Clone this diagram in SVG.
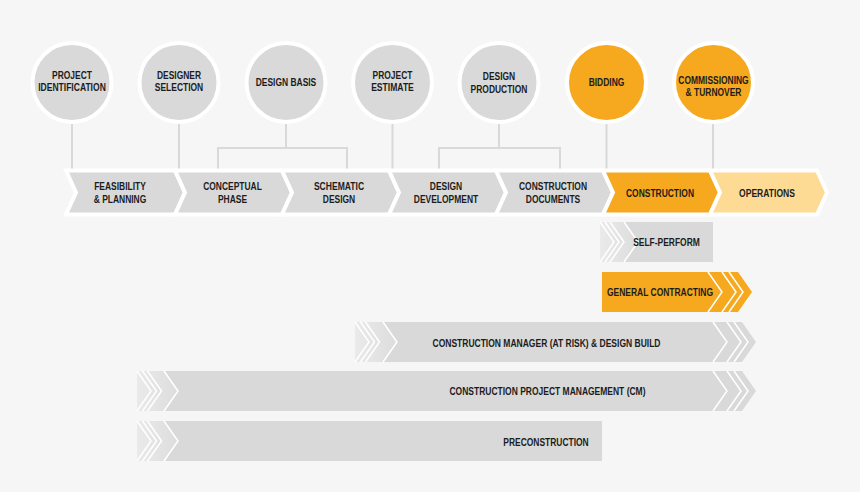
<svg xmlns="http://www.w3.org/2000/svg" width="860" height="492" viewBox="0 0 860 492">
<defs>
<style>
.t{font-family:"Liberation Sans",Arial,sans-serif;font-weight:bold;font-size:10.3px;fill:#1c1c1c;text-anchor:middle}
.c{stroke:#ffffff;stroke-width:4}
.g{fill:#d9d9d9}
.o{fill:#f6a81e}
.lo{fill:#fedb95}
.ch{stroke:#ffffff;stroke-width:4;stroke-linejoin:miter}
.wl{fill:none;stroke:#ffffff;stroke-width:1.5}
.cn{fill:none;stroke:#d9d9d9;stroke-width:2}
</style>
<linearGradient id="fade" x1="0" y1="0" x2="1" y2="0">
<stop offset="0" stop-color="#ffffff" stop-opacity="0.45"/>
<stop offset="1" stop-color="#ffffff" stop-opacity="0.1"/>
</linearGradient>
</defs>
<rect x="0" y="0" width="860" height="492" fill="#f6f6f6"/>

<g id="connectors">
<line class="cn" x1="72" y1="124" x2="72" y2="169"/>
<line class="cn" x1="179" y1="124" x2="179" y2="169"/>
<polyline class="cn" points="286,124 286,148"/>
<polyline class="cn" points="218,169 218,148 347,148 347,169"/>
<line class="cn" x1="392.5" y1="124" x2="392.5" y2="169"/>
<polyline class="cn" points="499,124 499,148"/>
<polyline class="cn" points="439,169 439,148 560,148 560,169"/>
<line class="cn" x1="606.5" y1="124" x2="606.5" y2="169"/>
<line class="cn" x1="713" y1="124" x2="713" y2="169"/>
</g>

<g id="circle-project-identification">
<circle class="c g" cx="72" cy="82.5" r="39.5"/>
<text class="t" x="72" y="78.7" textLength="39.9" lengthAdjust="spacingAndGlyphs">PROJECT</text>
<text class="t" x="72" y="91" textLength="67.6" lengthAdjust="spacingAndGlyphs">IDENTIFICATION</text>
</g>
<g id="circle-designer-selection">
<circle class="c g" cx="179" cy="82.5" r="39.5"/>
<text class="t" x="179" y="78.7" textLength="44.1" lengthAdjust="spacingAndGlyphs">DESIGNER</text>
<text class="t" x="179" y="91" textLength="48.3" lengthAdjust="spacingAndGlyphs">SELECTION</text>
</g>
<g id="circle-design-basis">
<circle class="c g" cx="286" cy="82.5" r="39.5"/>
<text class="t" x="286" y="86.4" textLength="60.5" lengthAdjust="spacingAndGlyphs">DESIGN BASIS</text>
</g>
<g id="circle-project-estimate">
<circle class="c g" cx="392.5" cy="82.5" r="39.5"/>
<text class="t" x="392.5" y="79" textLength="39.9" lengthAdjust="spacingAndGlyphs">PROJECT</text>
<text class="t" x="392.5" y="91.3" textLength="42.7" lengthAdjust="spacingAndGlyphs">ESTIMATE</text>
</g>
<g id="circle-design-production">
<circle class="c g" cx="499" cy="82.5" r="39.5"/>
<text class="t" x="499" y="80.4" textLength="32.4" lengthAdjust="spacingAndGlyphs">DESIGN</text>
<text class="t" x="499" y="92.7" textLength="56.8" lengthAdjust="spacingAndGlyphs">PRODUCTION</text>
</g>
<g id="circle-bidding">
<circle class="c o" cx="606.5" cy="82.5" r="39.5"/>
<text class="t" x="606.5" y="85.7" textLength="35.7" lengthAdjust="spacingAndGlyphs">BIDDING</text>
</g>
<g id="circle-commissioning">
<circle class="c o" cx="713.5" cy="82.5" r="39.5"/>
<text class="t" x="713.5" y="83.7" textLength="70.4" lengthAdjust="spacingAndGlyphs">COMMISSIONING</text>
<text class="t" x="713.5" y="95.7" textLength="55.8" lengthAdjust="spacingAndGlyphs">&amp; TURNOVER</text>
</g>

<g id="phase-feasibility">
<polygon class="ch g" points="66,170.5 175,170.5 185,192.5 175,214.5 66,214.5 76,192.5"/>
<text class="t" x="120" y="189.7" textLength="51.6" lengthAdjust="spacingAndGlyphs">FEASIBILITY</text>
<text class="t" x="120" y="202.7" textLength="52.6" lengthAdjust="spacingAndGlyphs">&amp; PLANNING</text>
</g>
<g id="phase-conceptual">
<polygon class="ch g" points="175,170.5 282,170.5 292,192.5 282,214.5 175,214.5 185,192.5"/>
<text class="t" x="232.5" y="189.7" textLength="58.6" lengthAdjust="spacingAndGlyphs">CONCEPTUAL</text>
<text class="t" x="232.5" y="202.7" textLength="29.1" lengthAdjust="spacingAndGlyphs">PHASE</text>
</g>
<g id="phase-schematic">
<polygon class="ch g" points="282,170.5 389,170.5 399,192.5 389,214.5 282,214.5 292,192.5"/>
<text class="t" x="339" y="189.7" textLength="50.2" lengthAdjust="spacingAndGlyphs">SCHEMATIC</text>
<text class="t" x="339" y="202.7" textLength="32.4" lengthAdjust="spacingAndGlyphs">DESIGN</text>
</g>
<g id="phase-design-development">
<polygon class="ch g" points="389,170.5 496,170.5 506,192.5 496,214.5 389,214.5 399,192.5"/>
<text class="t" x="446" y="189.7" textLength="32.4" lengthAdjust="spacingAndGlyphs">DESIGN</text>
<text class="t" x="446" y="202.7" textLength="64.3" lengthAdjust="spacingAndGlyphs">DEVELOPMENT</text>
</g>
<g id="phase-construction-documents">
<polygon class="ch g" points="496,170.5 603,170.5 613,192.5 603,214.5 496,214.5 506,192.5"/>
<text class="t" x="553" y="189.7" textLength="68" lengthAdjust="spacingAndGlyphs">CONSTRUCTION</text>
<text class="t" x="553" y="202.7" textLength="54.4" lengthAdjust="spacingAndGlyphs">DOCUMENTS</text>
</g>
<g id="phase-construction">
<polygon class="ch o" points="603,170.5 710,170.5 720,192.5 710,214.5 603,214.5 613,192.5"/>
<text class="t" x="660" y="196.7" textLength="68" lengthAdjust="spacingAndGlyphs">CONSTRUCTION</text>
</g>
<g id="phase-operations">
<polygon class="ch lo" points="710,170.5 817,170.5 827,192.5 817,214.5 710,214.5 720,192.5"/>
<text class="t" x="767" y="196.7" textLength="55.8" lengthAdjust="spacingAndGlyphs">OPERATIONS</text>
</g>

<g id="bar-self-perform">
<rect class="g" x="600" y="222" width="113" height="40"/>
<polygon fill="url(#fade)" points="600,222 624,222 638,242 624,262 600,262"/>
<polyline class="wl" points="600,222 614,242 600,262"/>
<polyline class="wl" points="605,222 619,242 605,262"/>
<polyline class="wl" points="610,222 624,242 610,262"/>
<polyline class="wl" points="624,222 638,242 624,262"/>
<text class="t" x="666.5" y="245.7" textLength="66.6" lengthAdjust="spacingAndGlyphs">SELF-PERFORM</text>
</g>

<g id="bar-general-contracting">
<polygon class="o" points="602,272 738,272 752,292 738,312 602,312"/>
<polyline class="wl" points="708,272 722,292 708,312"/>
<polyline class="wl" points="722,272 736,292 722,312"/>
<polyline class="wl" points="729,272 743,292 729,312"/>
<text class="t" x="660" y="296" textLength="106" lengthAdjust="spacingAndGlyphs">GENERAL CONTRACTING</text>
</g>

<g id="bar-cm-at-risk">
<polygon class="g" points="355,322 742,322 756,342 742,362 355,362"/>
<polygon fill="url(#fade)" points="355,322 383,322 397,342 383,362 355,362"/>
<polyline class="wl" points="355,322 369,342 355,362"/>
<polyline class="wl" points="360.5,322 374.5,342 360.5,362"/>
<polyline class="wl" points="365.5,322 379.5,342 365.5,362"/>
<polyline class="wl" points="383,322 397,342 383,362"/>
<polyline class="wl" points="713,322 727,342 713,362"/>
<polyline class="wl" points="727,322 741,342 727,362"/>
<polyline class="wl" points="734,322 748,342 734,362"/>
<text class="t" x="546.5" y="347" textLength="228" lengthAdjust="spacingAndGlyphs">CONSTRUCTION MANAGER (AT RISK) &amp; DESIGN BUILD</text>
</g>

<g id="bar-cpm">
<polygon class="g" points="137,371 742,371 756,391 742,411 137,411"/>
<polygon fill="url(#fade)" points="137,371 164,371 178,391 164,411 137,411"/>
<polyline class="wl" points="137,371 151,391 137,411"/>
<polyline class="wl" points="142.5,371 156.5,391 142.5,411"/>
<polyline class="wl" points="147.5,371 161.5,391 147.5,411"/>
<polyline class="wl" points="164,371 178,391 164,411"/>
<polyline class="wl" points="713,371 727,391 713,411"/>
<polyline class="wl" points="727,371 741,391 727,411"/>
<polyline class="wl" points="734,371 748,391 734,411"/>
<text class="t" x="547.5" y="394.7" textLength="196" lengthAdjust="spacingAndGlyphs">CONSTRUCTION PROJECT MANAGEMENT (CM)</text>
</g>

<g id="bar-preconstruction">
<rect class="g" x="137" y="421" width="465" height="40"/>
<polygon fill="url(#fade)" points="137,421 164,421 178,441 164,461 137,461"/>
<polyline class="wl" points="137,421 151,441 137,461"/>
<polyline class="wl" points="142.5,421 156.5,441 142.5,461"/>
<polyline class="wl" points="147.5,421 161.5,441 147.5,461"/>
<polyline class="wl" points="164,421 178,441 164,461"/>
<text class="t" x="546" y="445.7" textLength="85.4" lengthAdjust="spacingAndGlyphs">PRECONSTRUCTION</text>
</g>
</svg>
